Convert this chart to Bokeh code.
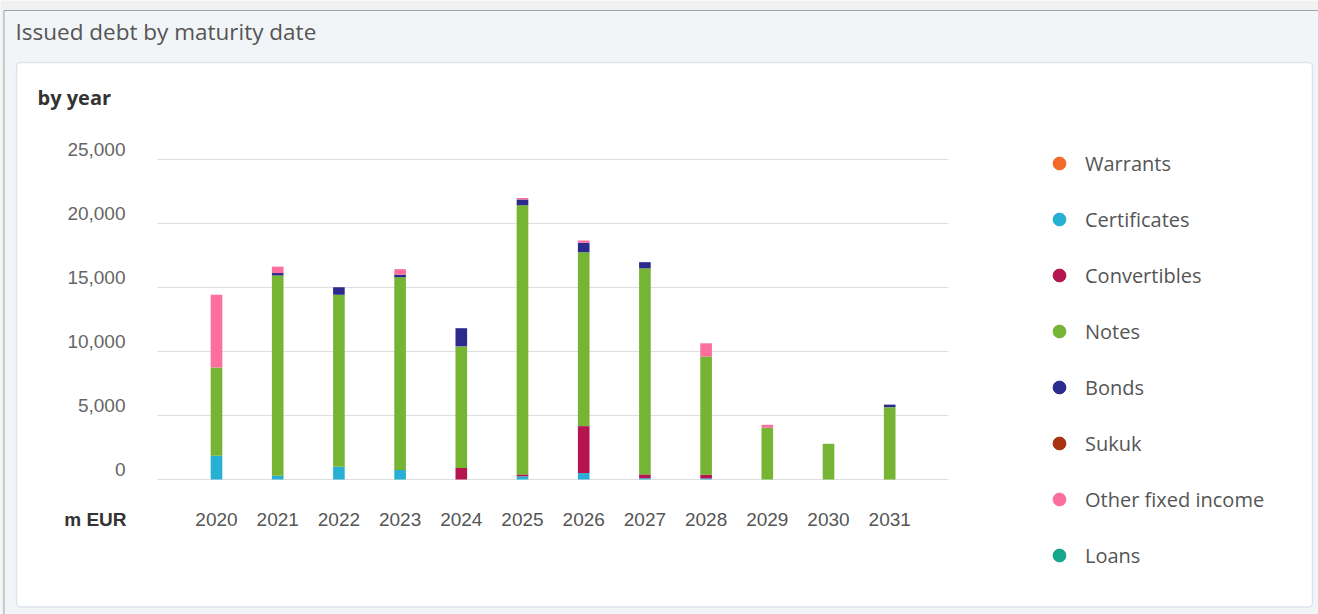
from bokeh.plotting import figure
from bokeh.models import (ColumnDataSource, Range1d, Legend, LegendItem, Label)
from bokeh.embed import file_html
from bokeh.resources import INLINE
from bokeh.core.properties import value

years = [2020, 2021, 2022, 2023, 2024, 2025, 2026, 2027, 2028, 2029, 2030, 2031]
year_labels = [str(y) for y in years]
series = ["Warrants", "Certificates", "Convertibles", "Notes", "Bonds", "Sukuk",
          "Other fixed income", "Loans"]
colors = ["#f26b2a", "#27b0d3", "#b5154e", "#76b433", "#2d2a8e", "#a8320f", "#fb6e9e", "#15a68b"]

warrants = [0, 0, 0, 0, 0, 0, 0, 0, 0, 0, 0, 0]
certificates = [1850, 300, 1000, 750, 0, 250, 500, 100, 80, 0, 0, 0]
convertibles = [0, 0, 0, 0, 900, 150, 3670, 300, 300, 0, 0, 0]
notes = [6900, 15650, 13430, 15050, 9500, 21030, 13590, 16100, 9220, 4040, 2790, 5650]
bonds = [0, 180, 590, 200, 1420, 450, 730, 480, 0, 0, 0, 200]
sukuk = [0, 0, 0, 0, 0, 0, 0, 0, 0, 0, 0, 0]
other_fixed_income = [5680, 500, 0, 430, 0, 120, 180, 0, 1040, 230, 0, 0]
loans = [0, 0, 0, 0, 0, 0, 0, 0, 0, 0, 0, 0]
y_ticks = [0, 5000, 10000, 15000, 20000, 25000]
y_tick_labels = ["0", "5,000", "10,000", "15,000", "20,000", "25,000"]

data = {"year": years}
for name, vals in zip(series, [warrants, certificates, convertibles, notes, bonds, sukuk,
                               other_fixed_income, loans]):
    data[name] = vals
source = ColumnDataSource(data)

W, H = 1318, 614
# layout geometry (pixels): plot area and category pitch
PX_LEFT, PX_RIGHT = 157, 948
PX_ZERO, PX_PER_UNIT = 479, 320.0 / 25000
X0_PX, PITCH = 216, 61.2

p = figure(width=W, height=H, output_backend="svg", toolbar_location=None,
           x_range=Range1d(0, W), y_range=Range1d(H, 0), min_border=0,
           x_axis_location=None, y_axis_location=None)
p.grid.visible = False
p.outline_line_color = None
p.background_fill_color = "#f1f1f1"
p.border_fill_color = "#f1f1f1"

p.extra_x_ranges = {"yr": Range1d(years[0] - X0_PX / PITCH, years[0] + (W - X0_PX) / PITCH)}
p.extra_y_ranges = {"val": Range1d((PX_ZERO - H) / PX_PER_UNIT, PX_ZERO / PX_PER_UNIT)}

# outer panel and inner card
p.quad(left=3.5, right=W + 20, top=10, bottom=H + 20, fill_color="#f2f5f8",
       line_color="#a3a3a3", line_width=1)
p.quad(left=16, right=1312, top=62, bottom=606.5, fill_color="white",
       line_color="#dde3ea", line_width=1.5, border_radius=4)

# grid lines
p.segment(x0=PX_LEFT, x1=PX_RIGHT, y0=y_ticks, y1=y_ticks, y_range_name="val",
          line_color="#dedede", line_width=1)

# stacked bars
p.vbar_stack(series, x="year", width=0.19, color=colors, line_color=None, source=source,
             x_range_name="yr", y_range_name="val")

# y tick labels
p.text(x=125, y=y_ticks, text=y_tick_labels, y_range_name="val", y_offset=-10,
       text_align="right", text_baseline="middle", text_font=value("Liberation Sans"),
       text_font_size="19px", text_color="#666666")
# x tick labels
p.text(x=years, y=519, text=year_labels, x_range_name="yr",
       text_align="center", text_baseline="middle", text_font=value("Liberation Sans"),
       text_font_size="19px", text_color="#555555")

# legend with circle markers
nan = float("nan")
items = []
for name, c in zip(series, colors):
    r = p.scatter(x=[nan], y=[nan], marker="circle", size=13, fill_color=c, line_color=c)
    items.append(LegendItem(label=name, renderers=[r]))
legend = Legend(items=items, location=(1043, 43), orientation="vertical",
                glyph_width=32, glyph_height=32, label_height=20, spacing=24,
                label_standoff=10, padding=0, margin=0,
                border_line_color=None, background_fill_alpha=0,
                label_text_font="Open Sans", label_text_font_size="20px",
                label_text_color="#555555")
p.add_layout(legend)

# texts
p.add_layout(Label(x=15, y=31, text="Issued debt by maturity date", text_font="Open Sans",
                   text_font_size="22.5px", text_color="#555555", text_baseline="middle"))
p.add_layout(Label(x=37, y=97, text="by year", text_font="Open Sans", text_font_style="bold",
                   text_font_size="20px", text_color="#333333", text_baseline="middle"))
p.add_layout(Label(x=126, y=519, text="m EUR", text_font="Liberation Sans",
                   text_font_style="bold", text_font_size="19px", text_color="#333333",
                   text_baseline="middle", text_align="right"))

open("out.html", "w").write(file_html(p, INLINE))
